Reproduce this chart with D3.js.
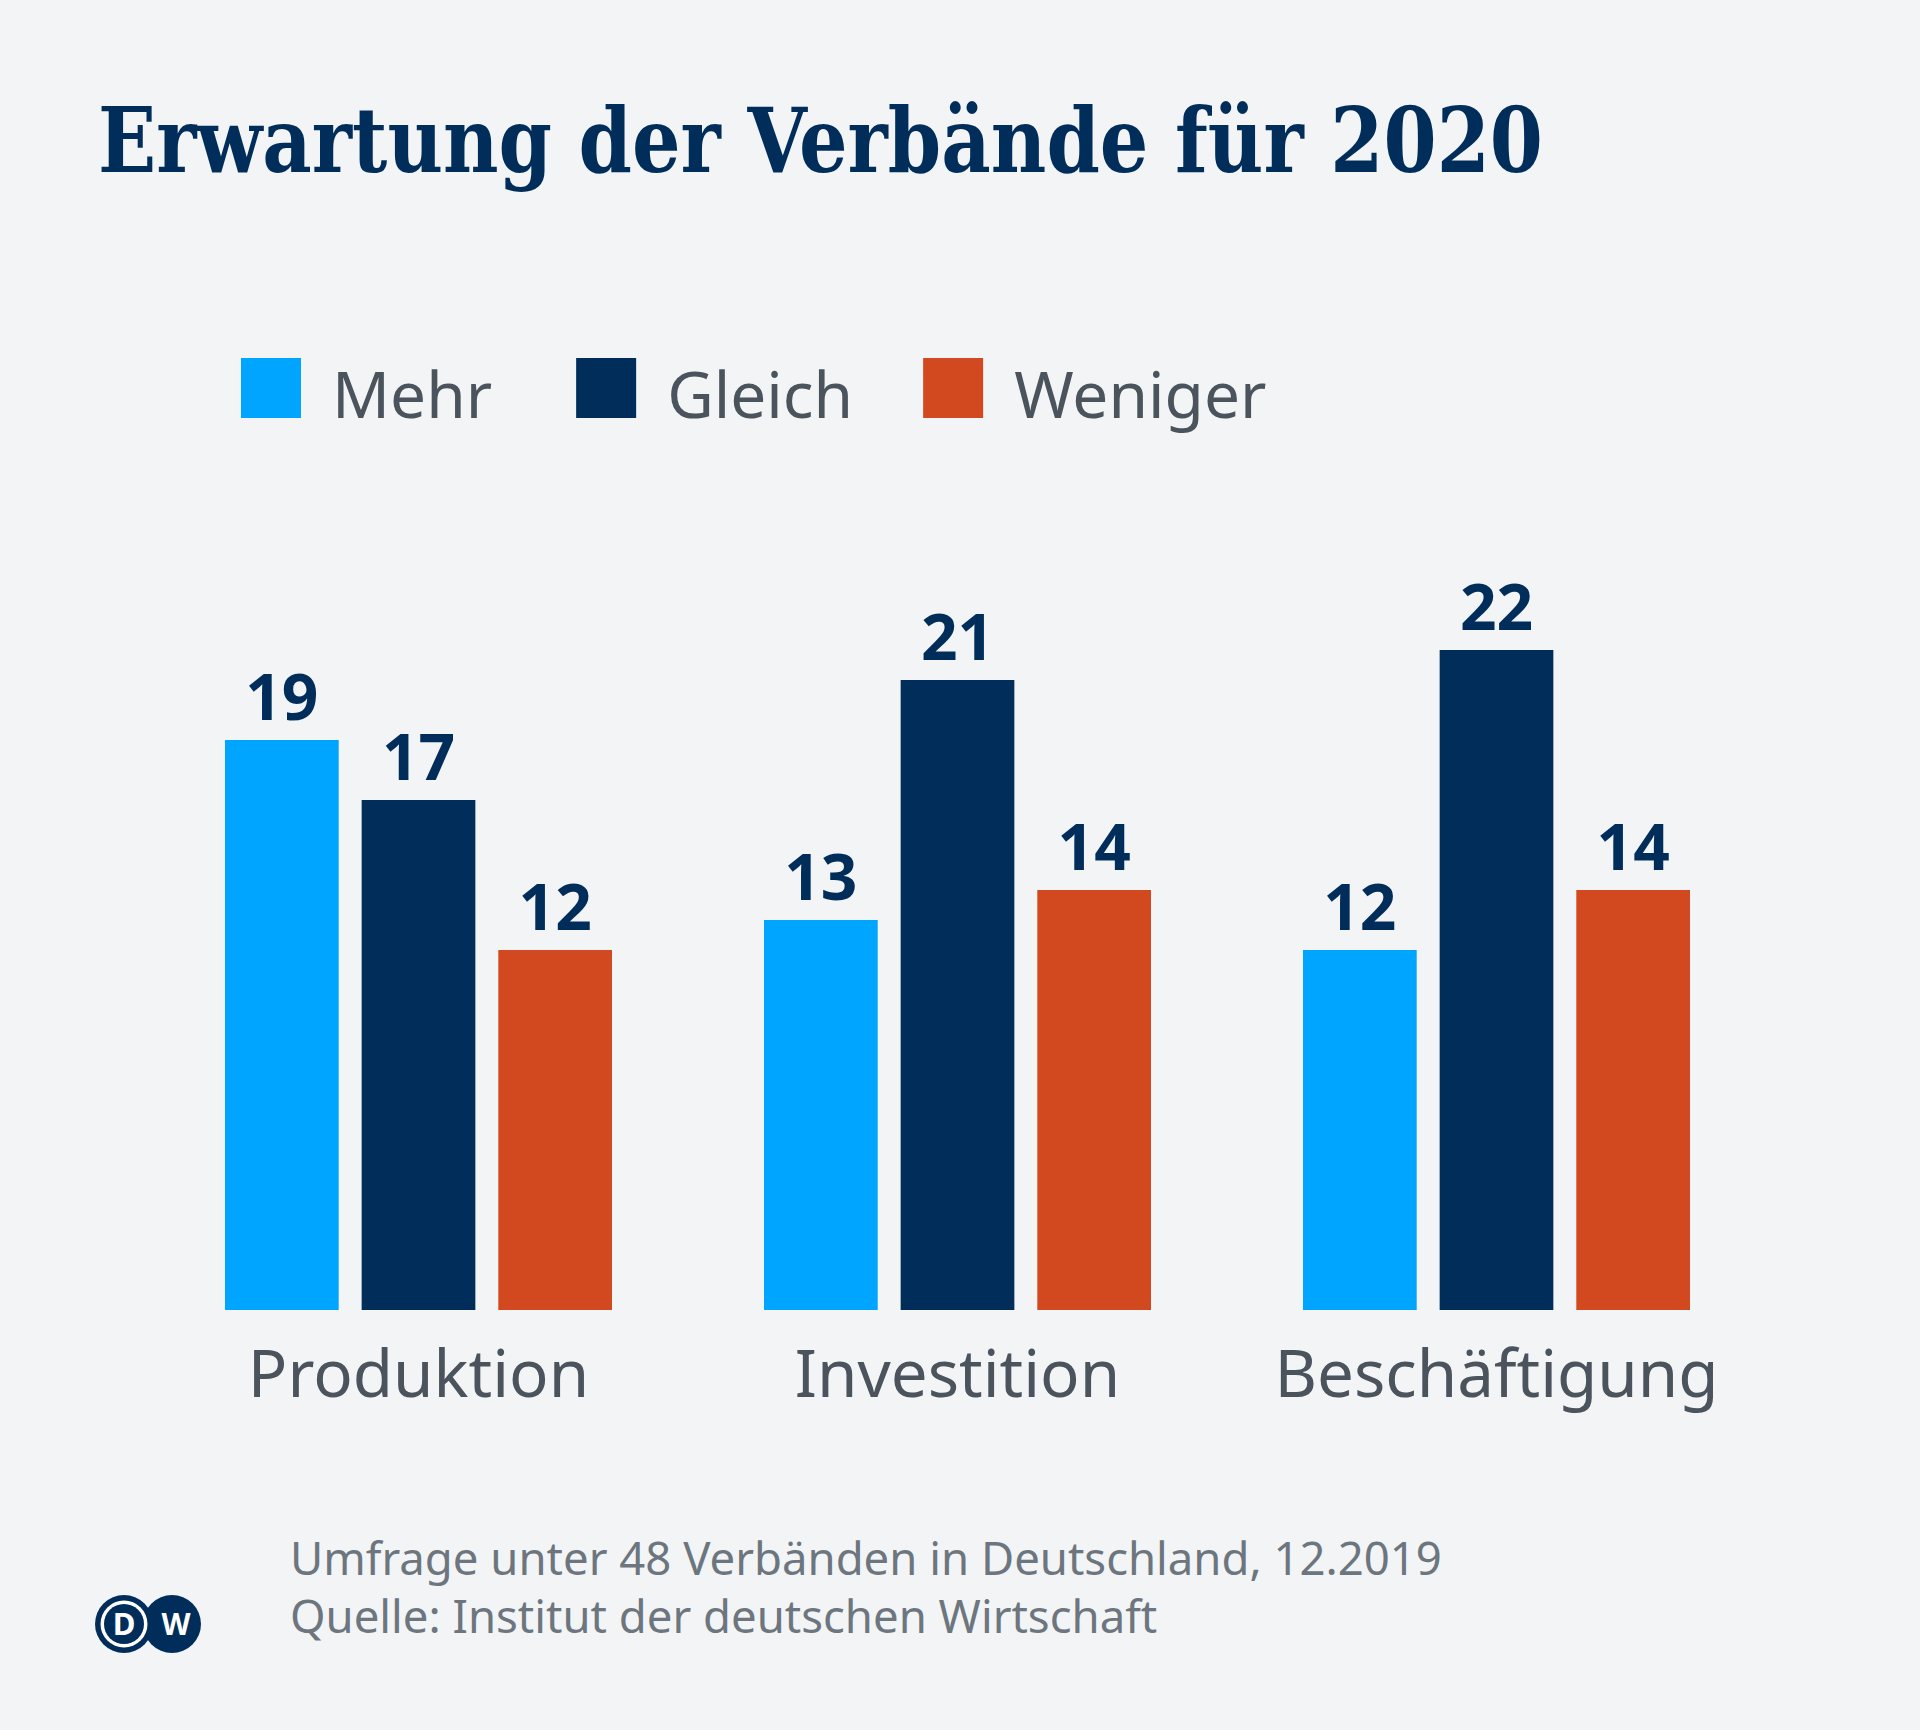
<!doctype html>
<html>
<head>
    <meta charset="UTF-8">
    <title>Erwartung der Verbände für 2020</title>
    <script src="https://d3js.org/d3.v7.min.js"></script>
    <style>
        body { margin: 0; background: #f2f4f6; }
        text { font-family: "Noto Sans", sans-serif; }
    </style>
</head>
<body>
<script>
    var categories = ["Produktion", "Investition", "Beschäftigung"];
    var seriesNames = ["Mehr", "Gleich", "Weniger"];
    var mehr = [19, 13, 12];
    var gleich = [17, 21, 22];
    var weniger = [12, 14, 14];
    var colors = ["#00a5ff", "#002d5a", "#d3491f"];

    var w = 1920;
    var h = 1730;
    var base = 1310;

    var values = [mehr, gleich, weniger];

    var svg = d3.select("body").append("svg")
        .attr("width", w)
        .attr("height", h);

    svg.append("rect")
        .attr("width", w)
        .attr("height", h)
        .attr("fill", "#f2f4f6");

    // titel
    svg.append("text")
        .attr("x", 98)
        .attr("y", 172)
        .attr("fill", "#002d5a")
        .attr("font-size", 90)
        .attr("font-weight", "bold")
        .attr("textLength", 1445)
        .attr("lengthAdjust", "spacingAndGlyphs")
        .style("font-family", "'DejaVu Serif Condensed', 'DejaVu Serif', serif")
        .text("Erwartung der Verbände für 2020");

    // legende
    var lx = 241;
    var gaps = [84, 70];
    seriesNames.forEach(function (name, i) {
        var g = svg.append("g").attr("transform", "translate(" + lx + ",358)");
        g.append("rect")
            .attr("width", 60)
            .attr("height", 60)
            .attr("fill", colors[i]);
        var t = g.append("text")
            .attr("x", 91)
            .attr("y", 60)
            .attr("font-size", 64)
            .attr("fill", "#4b535c")
            .text(name);
        lx += 91 + t.node().getComputedTextLength() + (gaps[i] || 0);
    });

    var x0 = d3.scaleBand()
        .domain(categories)
        .range([225, 1690])
        .paddingInner(0.282)
        .paddingOuter(0);

    var x1 = d3.scaleBand()
        .domain(seriesNames)
        .range([0, x0.bandwidth()])
        .paddingInner(0.168)
        .paddingOuter(0);

    var y = d3.scaleLinear()
        .domain([0, 22])
        .range([base, base - 22 * 30]);

    var groups = svg.selectAll("g.group")
        .data(categories)
        .enter()
        .append("g")
        .attr("class", "group")
        .attr("transform", function (d) {
            return "translate(" + x0(d) + ",0)";
        });

    groups.selectAll("rect")
        .data(function (d, ci) {
            return seriesNames.map(function (s, si) {
                return { s: s, v: values[si][ci], c: colors[si] };
            });
        })
        .enter()
        .append("rect")
        .attr("x", function (d) { return x1(d.s); })
        .attr("y", function (d) { return y(d.v); })
        .attr("width", x1.bandwidth())
        .attr("height", function (d) { return base - y(d.v); })
        .attr("fill", function (d) { return d.c; });

    groups.selectAll("text.val")
        .data(function (d, ci) {
            return seriesNames.map(function (s, si) {
                return { s: s, v: values[si][ci] };
            });
        })
        .enter()
        .append("text")
        .attr("class", "val")
        .attr("x", function (d) { return x1(d.s) + x1.bandwidth() / 2; })
        .attr("y", function (d) { return y(d.v) - 20; })
        .attr("text-anchor", "middle")
        .attr("font-size", 64)
        .attr("font-weight", "bold")
        .attr("fill", "#002d5a")
        .text(function (d) { return d.v; });

    groups.append("text")
        .attr("x", x0.bandwidth() / 2)
        .attr("y", 1397)
        .attr("text-anchor", "middle")
        .attr("font-size", 65.5)
        .attr("fill", "#4b535c")
        .text(function (d) { return d; });

    // quelle
    svg.append("text")
        .attr("x", 290)
        .attr("y", 1575)
        .attr("font-size", 45.5)
        .attr("fill", "#6d767e")
        .text("Umfrage unter 48 Verbänden in Deutschland, 12.2019");
    svg.append("text")
        .attr("x", 290)
        .attr("y", 1633)
        .attr("font-size", 45.5)
        .attr("fill", "#6d767e")
        .text("Quelle: Institut der deutschen Wirtschaft");

    // DW logo
    var logo = svg.append("g").attr("transform", "translate(124,1624)");
    logo.append("circle").attr("cx", 48).attr("r", 29).attr("fill", "#002d5a");
    logo.append("circle").attr("r", 29).attr("fill", "#002d5a");
    logo.append("circle").attr("r", 23.5).attr("fill", "#ffffff");
    logo.append("circle").attr("r", 20).attr("fill", "#002d5a");
    logo.append("text")
        .attr("x", 0).attr("y", 11)
        .attr("text-anchor", "middle")
        .attr("font-size", 31)
        .attr("font-weight", "bold")
        .attr("fill", "#ffffff")
        .text("D");
    logo.append("text")
        .attr("x", 52).attr("y", 11)
        .attr("text-anchor", "middle")
        .attr("font-size", 30)
        .attr("font-weight", "bold")
        .attr("fill", "#ffffff")
        .text("W");
</script>
</body>
</html>
